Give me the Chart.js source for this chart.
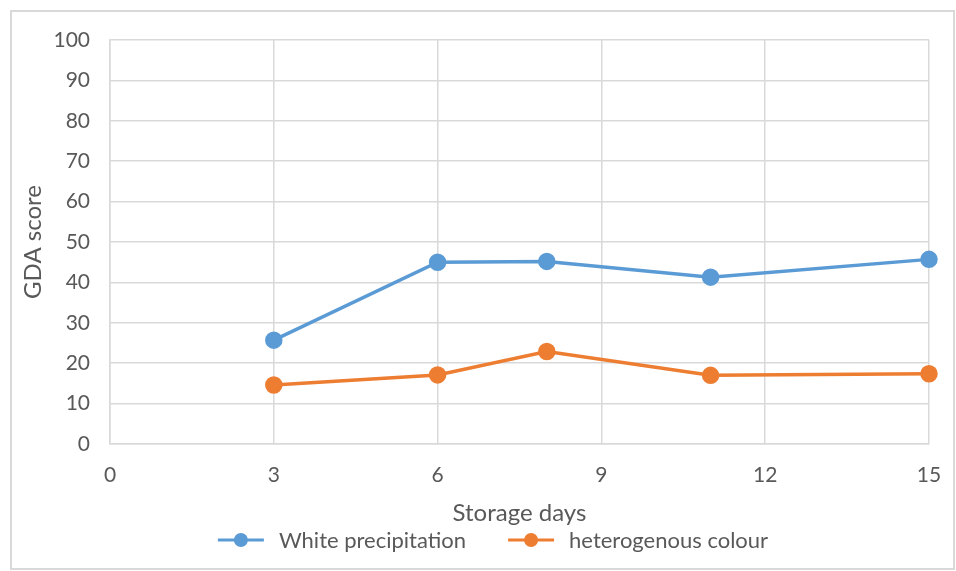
<!DOCTYPE html>
<html lang="en">
<head>
    <meta charset="UTF-8">
    <script src="https://cdn.jsdelivr.net/npm/chart.js@4"></script>
    <title>GDA score - Storage days</title>
    <style>
        body { margin: 0; background: #fff; }
    </style>
</head>
<body>

    <canvas id="myChart" width="956" height="571"></canvas>

    <script>
        const days = [3, 6, 8, 11, 15];
        const whitePrecipitation = [25.7, 45.0, 45.2, 41.3, 45.7];
        const heterogenousColour = [14.6, 17.1, 22.9, 17.0, 17.4];
        const seriesNames = ['White precipitation', 'heterogenous colour'];
        const seriesColors = ['#5b9bd5', '#ed7d31'];

        const FONT = 'Lato, "Open Sans", sans-serif';
        const TEXT = '#595959';
        const GRID = '#d9d9d9';

        const toPoints = values => values.map((v, i) => ({x: days[i], y: v}));

        // outer frame + line/dot legend under the axis title
        const frameAndLegend = {
            id: 'frameAndLegend',
            beforeDraw(chart){
                const c = chart.ctx;
                c.save();
                c.strokeStyle = '#d9d9d9';
                c.lineWidth = 2;
                c.strokeRect(11, 11, 943, 558);
                c.restore();
            },
            afterDraw(chart){
                const c = chart.ctx;
                c.save();
                c.font = '22px ' + FONT;
                c.textBaseline = 'middle';
                const y = 540;
                const marker = 46, gap = 15, space = 42;
                const widths = seriesNames.map(n => c.measureText(n).width);
                let total = 0;
                widths.forEach((w, i) => total += marker + gap + w + (i ? space : 0));
                let x = 493 - total / 2;
                seriesNames.forEach((name, i) => {
                    if(i) x += space;
                    c.strokeStyle = seriesColors[i];
                    c.fillStyle = seriesColors[i];
                    c.lineWidth = 3;
                    c.beginPath();
                    c.moveTo(x, y);
                    c.lineTo(x + marker, y);
                    c.stroke();
                    c.beginPath();
                    c.arc(x + marker / 2, y, 7, 0, Math.PI * 2);
                    c.fill();
                    x += marker + gap;
                    c.fillStyle = TEXT;
                    c.fillText(name, x, y + 1);
                    x += widths[i];
                });
                c.restore();
            }
        };

        let ctx = document.getElementById('myChart').getContext('2d');

        new Chart(ctx, {
            type: 'line',
            data: {
                datasets: [{
                    label: seriesNames[0],
                    data: toPoints(whitePrecipitation),
                    borderColor: seriesColors[0],
                    backgroundColor: seriesColors[0],
                    borderWidth: 3.5,
                    pointRadius: 7,
                    pointHoverRadius: 7,
                    clip: false
                }, {
                    label: seriesNames[1],
                    data: toPoints(heterogenousColour),
                    borderColor: seriesColors[1],
                    backgroundColor: seriesColors[1],
                    borderWidth: 3.5,
                    pointRadius: 7,
                    pointHoverRadius: 7,
                    clip: false
                }]
            },
            options: {
                responsive: false,
                animation: false,
                layout: {
                    padding: {left: 0, right: 27, top: 40, bottom: 43}
                },
                plugins: {
                    legend: {display: false},
                    tooltip: {enabled: false}
                },
                scales: {
                    x: {
                        type: 'linear',
                        min: 0,
                        max: 15,
                        ticks: {
                            stepSize: 3,
                            padding: 19,
                            color: TEXT,
                            font: {family: FONT, size: 21}
                        },
                        grid: {color: GRID, lineWidth: 1.5, drawTicks: false},
                        border: {color: GRID, width: 1.5},
                        title: {
                            display: true,
                            text: 'Storage days',
                            color: TEXT,
                            font: {family: FONT, size: 24},
                            padding: {top: 0, bottom: 0}
                        },
                        afterFit: scale => {
                            scale.height = 84;
                            scale.paddingLeft = 0;
                            scale.paddingRight = 0;
                        }
                    },
                    y: {
                        min: 0,
                        max: 100,
                        ticks: {
                            stepSize: 10,
                            padding: 20,
                            color: TEXT,
                            font: {family: FONT, size: 21}
                        },
                        grid: {color: GRID, lineWidth: 1.5, drawTicks: false},
                        border: {color: GRID, width: 1.5},
                        title: {
                            display: true,
                            text: 'GDA score',
                            color: TEXT,
                            font: {family: FONT, size: 24},
                            padding: {top: 19, bottom: 0}
                        },
                        afterFit: scale => { scale.width = 110; }
                    }
                }
            },
            plugins: [frameAndLegend]
        });
    </script>

</body>
</html>
